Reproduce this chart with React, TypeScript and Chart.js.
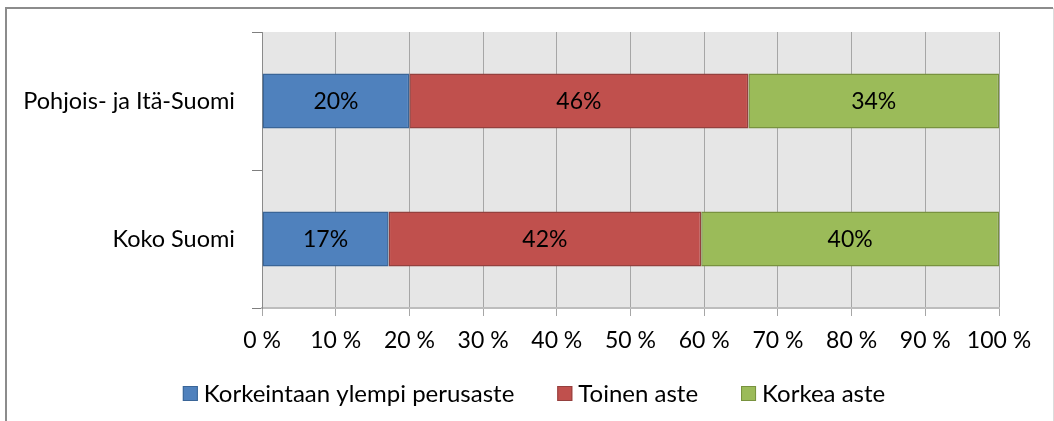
import React, { useEffect, useRef } from "react";
import { Chart, registerables } from "chart.js";

Chart.register(...registerables);

const categories = ["Pohjois- ja Itä-Suomi", "Koko Suomi"];
const seriesNames = ["Korkeintaan ylempi perusaste", "Toinen aste", "Korkea aste"];
const lowerEducation = [20, 17];
const secondary = [46, 42];
const higher = [34, 40];
const xTickLabels = ["0 %", "10 %", "20 %", "30 %", "40 %", "50 %", "60 %", "70 %", "80 %", "90 %", "100 %"];

const fills = ["#4F81BD", "#C0504D", "#9BBB59"];
const borders = ["#3A6597", "#94403E", "#78923F"];
const FONT = "Lato";

export default function App() {
  const ref = useRef<HTMLCanvasElement | null>(null);
  useEffect(() => {
    if (!ref.current) return;
    const raw = [lowerEducation, secondary, higher];
    const totals = categories.map((_, i) => raw.reduce((s, arr) => s + arr[i], 0));
    const datasets = raw.map((arr, k) => ({
      label: seriesNames[k],
      data: arr.map((v, i) => (v / totals[i]) * 100),
      rawValues: arr,
      backgroundColor: fills[k],
      borderColor: borders[k],
      borderWidth: 1.5,
      borderSkipped: false as const,
      barPercentage: 0.4,
      categoryPercentage: 1,
    }));

    const decor = {
      id: "decor",
      beforeDraw(chart: any) {
        const { ctx, chartArea: a } = chart;
        ctx.save();
        ctx.fillStyle = "#E6E6E6";
        ctx.fillRect(a.left, a.top, a.right - a.left, a.bottom - a.top);
        ctx.restore();
      },
      afterDraw(chart: any) {
        const { ctx } = chart;
        ctx.save();
        // frame
        ctx.strokeStyle = "#8c8c8c";
        ctx.lineWidth = 2;
        ctx.beginPath();
        ctx.moveTo(6, 430);
        ctx.lineTo(6, 8);
        ctx.lineTo(1053, 8);
        ctx.stroke();
        ctx.strokeStyle = "#dcdcdc";
        ctx.lineWidth = 1;
        ctx.beginPath();
        ctx.moveTo(1053.5, 8);
        ctx.lineTo(1053.5, 430);
        ctx.stroke();
        // data labels
        ctx.font = `23px ${FONT}`;
        ctx.fillStyle = "#000";
        ctx.textAlign = "center";
        ctx.textBaseline = "middle";
        chart.data.datasets.forEach((ds: any, di: number) => {
          const meta = chart.getDatasetMeta(di);
          meta.data.forEach((bar: any, i: number) => {
            const cx = (bar.x + bar.base) / 2;
            ctx.fillText(`${ds.rawValues[i]}%`, cx, bar.y + 1);
          });
        });
        // legend
        ctx.font = `24px ${FONT}`;
        const boxSize = 15;
        const boxGap = 6;
        const itemGap = 43;
        const widths = seriesNames.map((n) => ctx.measureText(n).width + boxSize + boxGap);
        const total = widths.reduce((s, w) => s + w, 0) + itemGap * (seriesNames.length - 1);
        let x = 534 - total / 2;
        const y = 393.5;
        ctx.textAlign = "left";
        seriesNames.forEach((n, k) => {
          ctx.fillStyle = fills[k];
          ctx.fillRect(x, y - boxSize / 2, boxSize, boxSize);
          ctx.strokeStyle = borders[k];
          ctx.lineWidth = 1;
          ctx.strokeRect(x + 0.5, y - boxSize / 2 + 0.5, boxSize - 1, boxSize - 1);
          ctx.fillStyle = "#000";
          ctx.fillText(n, x + boxSize + boxGap, y + 1);
          x += widths[k] + itemGap;
        });
        ctx.restore();
      },
    };

    const chart = new Chart(ref.current, {
      type: "bar",
      data: { labels: categories, datasets: datasets as any },
      options: {
        indexAxis: "y",
        animation: false,
        responsive: false,
        maintainAspectRatio: false,
        layout: { padding: { left: 0, top: 32, right: 55, bottom: 63 } },
        plugins: { legend: { display: false }, tooltip: { enabled: false } },
        scales: {
          x: {
            stacked: true,
            min: 0,
            max: 100,
            afterBuildTicks(scale: any) {
              scale.ticks = xTickLabels.map((_, i) => ({ value: i * 10 }));
            },
            afterFit(scale: any) {
              scale.height = 50;
            },
            ticks: {
              callback: (_v: any, i: number) => xTickLabels[i],
              font: { family: FONT, size: 23 },
              color: "#000",
              padding: 11,
              maxRotation: 0,
              autoSkip: false,
            },
            grid: { color: "#a6a6a6", lineWidth: 1, tickLength: 8, drawTicks: true },
            border: { display: true, color: "#bdbdbd", width: 2 },
          },
          y: {
            stacked: true,
            afterFit(scale: any) {
              scale.width = 262;
            },
            ticks: {
              font: { family: FONT, size: 23.5 },
              color: "#000",
              padding: 17,
            },
            grid: { drawOnChartArea: false, drawTicks: true, tickLength: 10, color: "#7f7f7f", offset: true },
            border: { display: true, color: "#8a8a8a", width: 1 },
          },
        },
      },
      plugins: [decor],
    });
    return () => chart.destroy();
  }, []);
  return (
    <div style={{ position: "fixed", left: 0, top: 0, width: 1054, height: 421, background: "#fff" }}>
      <canvas ref={ref} width={1054} height={421} style={{ display: "block" }} />
    </div>
  );
}
